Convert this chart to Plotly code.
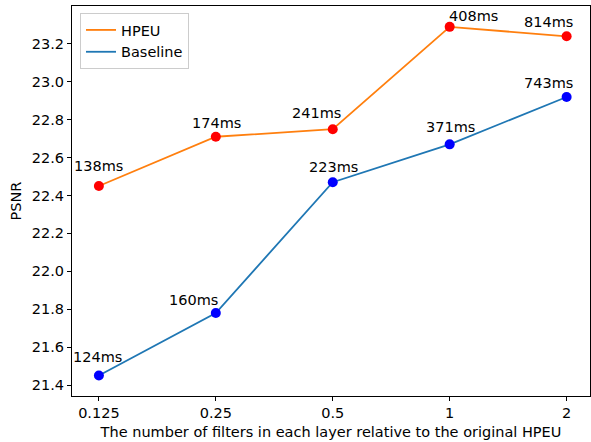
import plotly.graph_objects as go

categories = ["0.125", "0.25", "0.5", "1", "2"]
hpeu_psnr = [22.45, 22.71, 22.75, 23.29, 23.24]
baseline_psnr = [21.45, 21.78, 22.47, 22.67, 22.92]
hpeu_time = ["138ms", "174ms", "241ms", "408ms", "814ms"]
baseline_time = ["124ms", "160ms", "223ms", "371ms", "743ms"]
y_ticks = [21.4, 21.6, 21.8, 22.0, 22.2, 22.4, 22.6, 22.8, 23.0, 23.2]

# label offsets (px) for annotation placement
hpeu_shift = [(0, 20), (1, 14), (-16, 16), (24, 11), (-18, 14)]
base_shift = [(-1, 19), (-22, 13), (1, 15), (1, 17), (-18, 14)]

xs = list(range(len(categories)))
FONT = "DejaVu Sans"
FS = 14.5

fig = go.Figure()
fig.add_trace(go.Scatter(x=xs, y=hpeu_psnr, mode="lines", name="HPEU",
                         line=dict(color="#ff7f0e", width=1.8)))
fig.add_trace(go.Scatter(x=xs, y=baseline_psnr, mode="lines", name="Baseline",
                         line=dict(color="#1f77b4", width=1.8)))
fig.add_trace(go.Scatter(x=xs, y=hpeu_psnr, mode="markers", showlegend=False,
                         marker=dict(color="#ff0000", size=10)))
fig.add_trace(go.Scatter(x=xs, y=baseline_psnr, mode="markers", showlegend=False,
                         marker=dict(color="#0000ff", size=10)))

for x, y, t, (dx, dy) in zip(xs, hpeu_psnr, hpeu_time, hpeu_shift):
    fig.add_annotation(x=x, y=y, text=t, showarrow=False, xshift=dx, yshift=dy,
                       yanchor="middle", font=dict(family=FONT, size=FS, color="black"))
for x, y, t, (dx, dy) in zip(xs, baseline_psnr, baseline_time, base_shift):
    fig.add_annotation(x=x, y=y, text=t, showarrow=False, xshift=dx, yshift=dy,
                       yanchor="middle", font=dict(family=FONT, size=FS, color="black"))

fig.update_layout(
    width=591, height=442,
    margin=dict(l=72, r=1, t=6, b=46),
    paper_bgcolor="white", plot_bgcolor="white",
    font=dict(family=FONT, size=FS, color="black"),
    showlegend=True,
    legend=dict(x=8/518, y=1 - 7/390, xanchor="left", yanchor="top",
                bgcolor="white", bordercolor="#cccccc", borderwidth=1,
                font=dict(family=FONT, size=FS), tracegroupgap=0),
    xaxis=dict(range=[-0.23, 4.2], tickvals=xs, ticktext=categories,
               showgrid=False, zeroline=False, showline=True, linecolor="black",
               linewidth=1, mirror=True, ticks="outside", ticklen=4,
               tickcolor="black",
               title=dict(text="The number of filters in each layer relative to the original HPEU",
                          font=dict(size=FS), standoff=6)),
    yaxis=dict(range=[21.342, 23.40], tickvals=y_ticks,
               ticktext=[f"{v:.1f}" for v in y_ticks],
               showgrid=False, zeroline=False, showline=True, linecolor="black",
               linewidth=1, mirror=True, ticks="outside", ticklen=4,
               tickcolor="black",
               title=dict(text="PSNR", font=dict(size=FS), standoff=6)),
)

fig.write_html("out.html")
